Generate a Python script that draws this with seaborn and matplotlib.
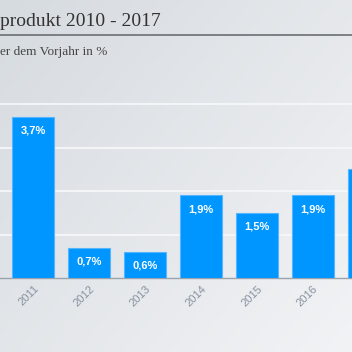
import numpy as np
import matplotlib
matplotlib.use("Agg")
import matplotlib.pyplot as plt
from matplotlib.lines import Line2D
import seaborn as sns
import pandas as pd

# ---- data ----
years = ["2010", "2011", "2012", "2013", "2014", "2015", "2016", "2017"]
growth = [4.1, 3.7, 0.7, 0.6, 1.9, 1.5, 1.9, 2.5]
title = "produkt 2010 - 2017"
subtitle = "er dem Vorjahr in %"

sns.set_theme(style="white")
plt.rcParams["font.family"] = ["Liberation Sans", "DejaVu Sans"]

W = H = 352
fig = plt.figure(figsize=(3.52, 3.52), dpi=100)

# background gradient
bg = fig.add_axes([0, 0, 1, 1], zorder=-5)
xx, yy = np.meshgrid(np.linspace(0, 1, 200), np.linspace(0, 1, 200))
t = 0.55 * xx + 0.45 * yy
c0 = np.array([214, 219, 224]) / 255
c1 = np.array([242, 243, 245]) / 255
img = c0[None, None, :] * (1 - t[..., None]) + c1[None, None, :] * t[..., None]
bg.imshow(img, aspect="auto", extent=[0, 1, 1, 0])
bg.set_xlim(0, 1); bg.set_ylim(1, 0)
bg.axis("off")

# main axes: bottom at baseline (y=278 px from top)
base_px = 278
ax = fig.add_axes([0, (H - base_px) / H, 1, base_px / H])
ax.set_facecolor("none")

df = pd.DataFrame({"year": years, "growth": growth})
sns.barplot(data=df, x="year", y="growth", color="#0096ff", width=0.75,
            saturation=1, edgecolor="#55b6ff", linewidth=0.8, ax=ax, zorder=3)

px_per_cat = 55.9
left = 1 - 33.3 / px_per_cat
ax.set_xlim(left, left + W / px_per_cat)
ax.set_ylim(0, base_px / 43.5)

ax.set_yticks([1, 2, 3, 4])
ax.set_yticklabels([])
ax.tick_params(axis="y", length=0)
ax.yaxis.grid(True, color="#f6f7f8", linewidth=1.3, zorder=0)
ax.set_axisbelow(True)
ax.xaxis.grid(False)

for s in ["top", "right", "left"]:
    ax.spines[s].set_visible(False)
ax.spines["bottom"].set_color("#9aa3ad")
ax.spines["bottom"].set_linewidth(1.0)

ax.set_xlabel("")
ax.set_ylabel("")
ax.tick_params(axis="x", length=0, pad=4.0, labelsize=8, labelcolor="#8791a0")
for lab in ax.get_xticklabels():
    lab.set_rotation(45)
    lab.set_ha("right")
    lab.set_rotation_mode("anchor")

# value labels inside bars
for i, v in enumerate(growth):
    ax.annotate(f"{v:.1f}".replace(".", ",") + "%", xy=(i, v), xytext=(0, -10),
                textcoords="offset points", ha="center", va="center",
                color="white", fontsize=8, fontweight="bold", zorder=5)

# header
fig.text(0.5 / W, 1 - 21 / H, title, ha="left", va="center",
         fontsize=14, color="#333333", family=["Liberation Serif", "DejaVu Serif"])
fig.add_artist(Line2D([0, 1], [1 - 35 / H, 1 - 35 / H], transform=fig.transFigure,
                      color="#74787c", linewidth=1.3))
fig.text(0.5 / W, 1 - 52 / H, subtitle, ha="left", va="center",
         fontsize=9.5, color="#444444", family=["Liberation Serif", "DejaVu Serif"])

fig.savefig("out.png", dpi=100)
